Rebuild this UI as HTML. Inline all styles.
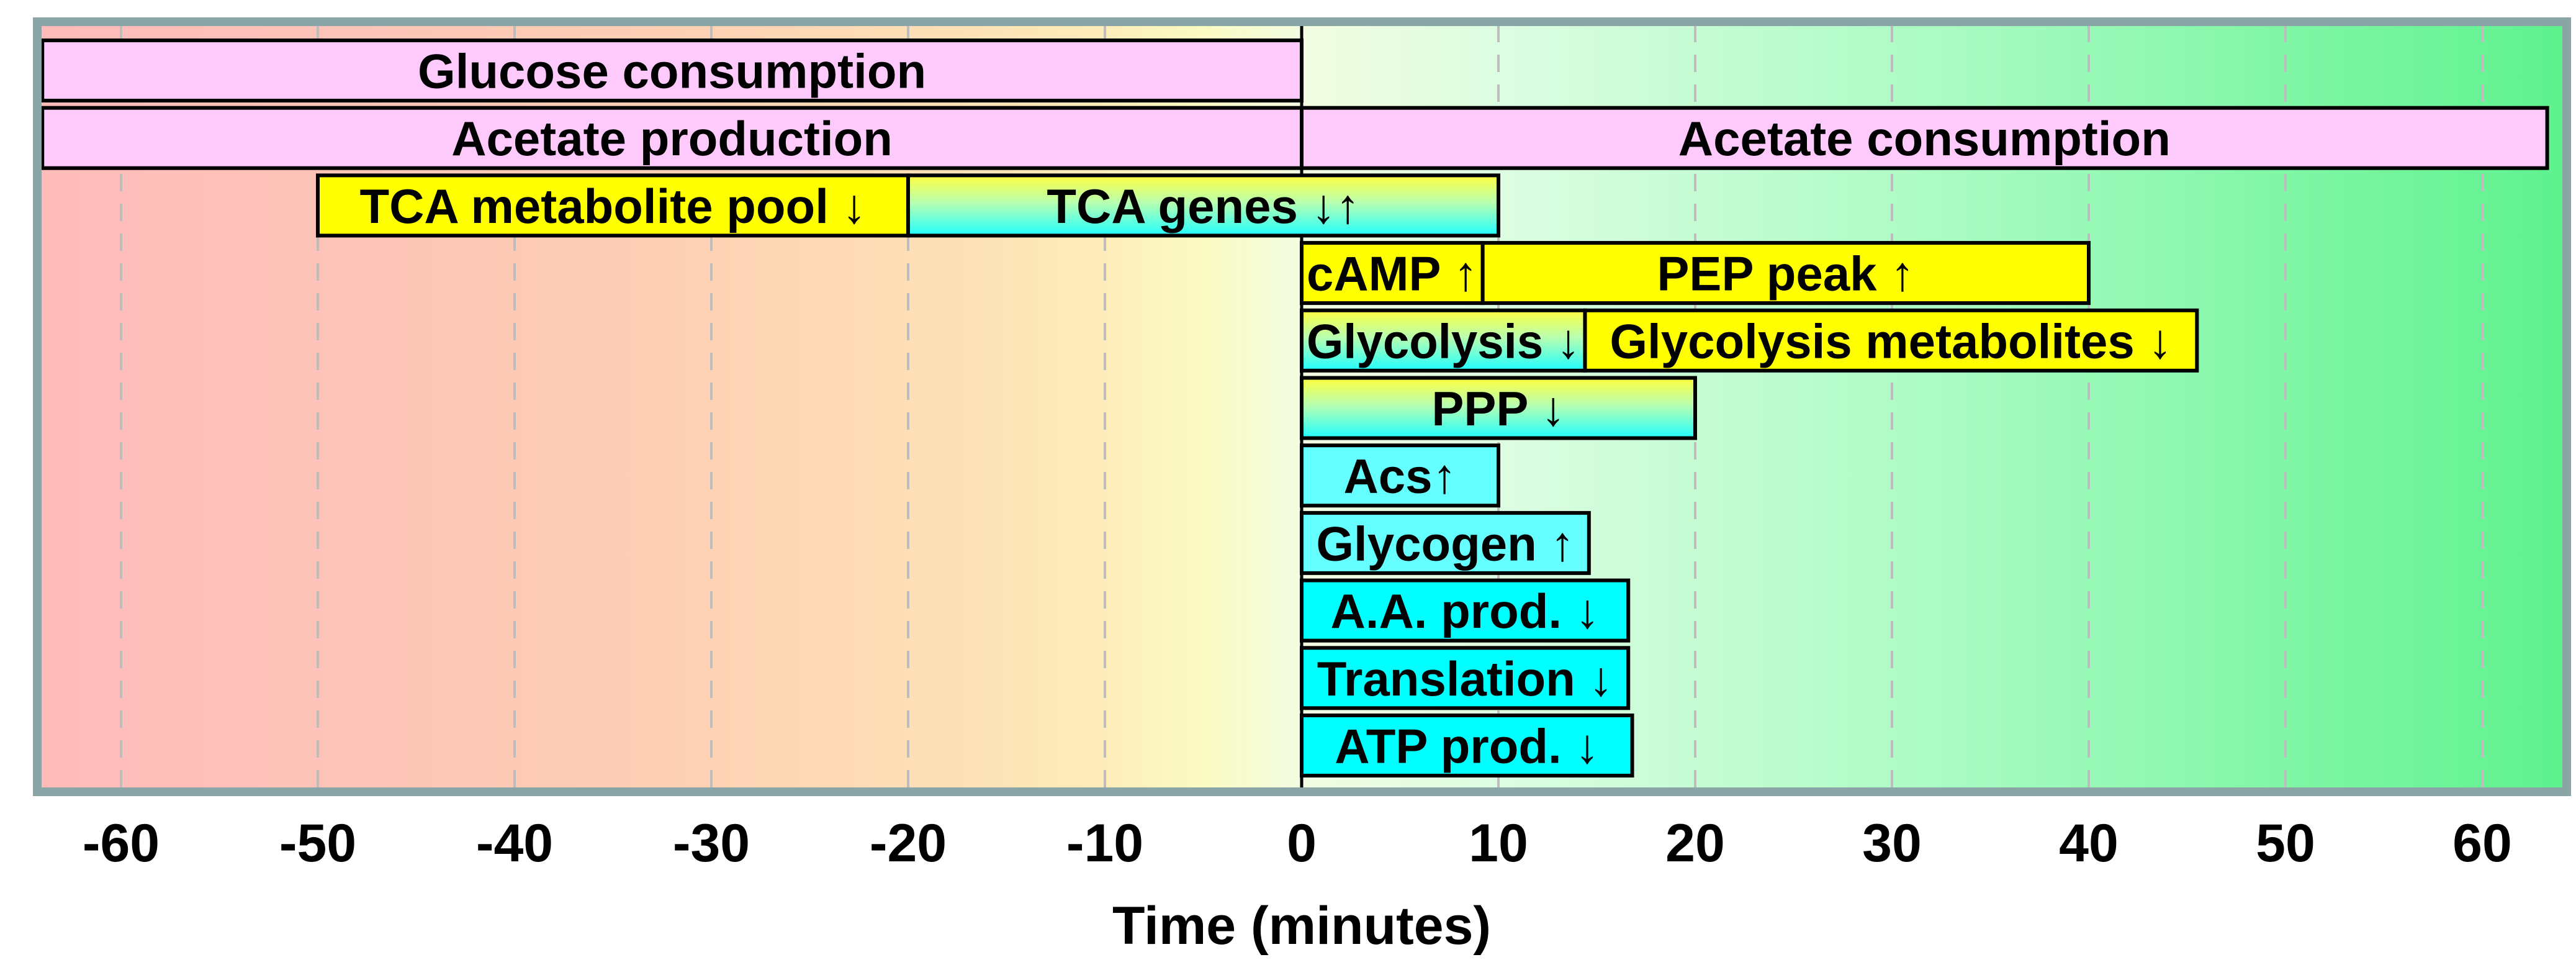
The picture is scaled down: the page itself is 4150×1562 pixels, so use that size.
<!DOCTYPE html>
<html><head><meta charset="utf-8"><style>
html,body{margin:0;padding:0;background:#fff;}
svg text{font-family:"Liberation Sans",sans-serif;font-weight:bold;}
</style></head><body>
<svg id="chart" width="4150" height="1557" viewBox="0 0 4150 1557" xmlns="http://www.w3.org/2000/svg">
<defs>
<linearGradient id="bg" x1="0" x2="1" y1="0" y2="0">
<stop offset="0" stop-color="#ffbaba"/>
<stop offset="0.12" stop-color="#fdc4b8"/>
<stop offset="0.25" stop-color="#fdd0b4"/>
<stop offset="0.36" stop-color="#fde0b6"/>
<stop offset="0.42" stop-color="#fdecba"/>
<stop offset="0.46" stop-color="#fbfbc2"/>
<stop offset="0.5" stop-color="#f2fde2"/>
<stop offset="0.58" stop-color="#dcfde2"/>
<stop offset="0.75" stop-color="#abfbc4"/>
<stop offset="1" stop-color="#5ef28e"/>
</linearGradient>
<linearGradient id="yc" x1="0" x2="0" y1="0" y2="1">
<stop offset="0" stop-color="#ffff40"/>
<stop offset="0.45" stop-color="#b8ffb0"/>
<stop offset="1" stop-color="#20ffff"/>
</linearGradient>
</defs>
<rect x="60" y="35" width="4075" height="1240" fill="url(#bg)"/>
<g id="grid"></g>
<g id="bars"></g>
<rect x="60" y="35" width="4075" height="1240" fill="none" stroke="#8aa5a5" stroke-width="14"/>
<g id="ticks"></g>
<text x="2097" y="1520" font-size="86" text-anchor="middle">Time (minutes)</text>
</svg>
<script>
const tickValues = [-60,-50,-40,-30,-20,-10,0,10,20,30,40,50,60];
const barLabels = ["Glucose consumption","Acetate production","Acetate consumption","TCA metabolite pool ↓","TCA genes ↓↑","cAMP ↑","PEP peak ↑","Glycolysis ↓","Glycolysis metabolites ↓","PPP ↓","Acs↑","Glycogen ↑","A.A. prod. ↓","Translation ↓","ATP prod. ↓"];
const barStarts = [-64,-64,0,-50,-20,0,9.2,0,14.4,0,0,0,0,0,0];
const barEnds = [0,0,63.3,-20,10,9.2,40,14.4,45.5,20,10,14.6,16.6,16.6,16.8];
const barRows = [0,1,1,2,2,3,3,4,4,5,6,7,8,9,10];
const barFills = ["#fdcafb","#fdcafb","#fdcafb","#ffff00","url(#yc)","#ffff00","#ffff00","url(#yc)","#ffff00","url(#yc)","#66ffff","#66ffff","#00ffff","#00ffff","#00ffff"];
const NS="http://www.w3.org/2000/svg";
const x = t => 2097 + 31.7*t;
const rowY = r => 65 + r*108.7;
const ROWH = 97;
const grid=document.getElementById('grid'), bars=document.getElementById('bars'), ticks=document.getElementById('ticks');
tickValues.forEach(v=>{
  if(v!==0){
    const l=document.createElementNS(NS,'line');
    
    
    l.setAttribute('x1',x(v));l.setAttribute('x2',x(v));
    l.setAttribute('y1',40);l.setAttribute('y2',1272);
    l.setAttribute('stroke','#bdbdbd');l.setAttribute('stroke-width',4);
    l.setAttribute('stroke-dasharray','28 20');
    grid.appendChild(l);
  }
  const t=document.createElementNS(NS,'text');
  
  
  t.setAttribute('x',x(v));t.setAttribute('y',1387);
  t.setAttribute('font-size',86);t.setAttribute('text-anchor','middle');
  t.textContent=v;
  ticks.appendChild(t);
});
const z=document.createElementNS(NS,'line');


z.setAttribute('x1',x(0));z.setAttribute('x2',x(0));z.setAttribute('y1',40);z.setAttribute('y2',1282);
z.setAttribute('stroke','#000');z.setAttribute('stroke-width',5);
grid.appendChild(z);
barLabels.forEach((lab,i)=>{
  const g=document.createElementNS(NS,'g');
  
  
  const r=document.createElementNS(NS,'rect');
  const x0=x(barStarts[i]), x1=x(barEnds[i]), y=rowY(barRows[i]);
  r.setAttribute('x',x0);r.setAttribute('y',y);r.setAttribute('width',x1-x0);r.setAttribute('height',ROWH);
  r.setAttribute('fill',barFills[i]);r.setAttribute('stroke','#000');r.setAttribute('stroke-width',6);
  g.appendChild(r);
  const t=document.createElementNS(NS,'text');
  t.setAttribute('x',(x0+x1)/2);t.setAttribute('y',y+ROWH/2+28);
  t.setAttribute('font-size',78);t.setAttribute('text-anchor','middle');
  t.textContent=lab;
  g.appendChild(t);
  bars.appendChild(g);
  const bw=x1-x0-16;
  const tw=t.getComputedTextLength();
  if(tw>bw){t.setAttribute('textLength',bw);t.setAttribute('lengthAdjust','spacingAndGlyphs');}
});
</script>
</body></html>
